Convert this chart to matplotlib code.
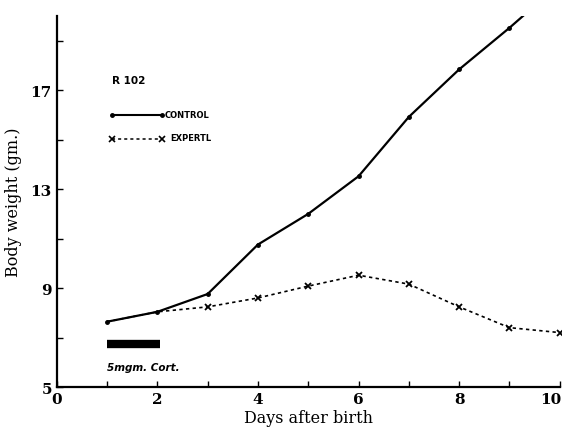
import matplotlib
matplotlib.use("Agg")
import matplotlib.pyplot as plt
import matplotlib.transforms as mtransforms

# Body weight (gm.) of rat litter R 102 by day after birth
days = [1, 2, 3, 4, 5, 6, 7, 8, 9, 10]
control = [7.64, 8.04, 8.76, 10.76, 12.0, 13.52, 15.92, 17.84, 19.52, 21.3]
expt = [7.64, 8.04, 8.24, 8.6, 9.08, 9.52, 9.16, 8.24, 7.4, 7.2]

x_ticks = [0, 2, 4, 6, 8, 10]
y_ticks = [5, 9, 13, 17]
treatment = (1.0, 2.05)   # days of 5 mgm. cortisone

plt.rcParams["font.family"] = ["DejaVu Serif"]

fig = plt.figure(figsize=(5.62, 4.35), dpi=100)
ax = fig.add_axes([0.101, 0.108, 0.895, 0.853])

ax.plot(days, control, color="black", lw=1.6, marker="o", ms=2.5,
        solid_capstyle="round")
ax.plot(days, expt, color="black", lw=1.2, ls=(0, (2, 2)), marker="x",
        ms=4.5, mew=1.3, markevery=list(range(2, len(days))), clip_on=False)

# legend drawn by hand, as in the original
ax.text(1.1, 17.4, "R 102", fontsize=7.5, fontweight="bold",
        family="DejaVu Sans", va="center")
ax.plot([1.09, 2.09], [16.0, 16.0], color="black", lw=1.5,
        marker="o", ms=2.5)
ax.text(2.15, 16.0, "CONTROL", fontsize=6, fontweight="bold",
        family="DejaVu Sans", va="center")
ax.plot([1.09, 2.09], [15.04, 15.04], color="black", lw=1.1,
        ls=(0, (2, 2)), marker="x", ms=4, mew=1.2)
ax.text(2.25, 15.1, "EXPERTL", fontsize=6, fontweight="bold",
        family="DejaVu Sans", va="center")

# treatment bar
ax.plot(treatment, [6.72, 6.72], color="black", lw=6, solid_capstyle="butt")
ax.text(1.0, 5.8, "5mgm. Cort.", fontsize=7.5, fontweight="bold",
        fontstyle="italic", family="DejaVu Sans", va="center")

ax.set_xlim(0, 10)
ax.set_ylim(5, 20)
ax.set_xticks(x_ticks)
ax.set_xticks(range(0, 11), minor=True)
ax.set_yticks(y_ticks)
ax.set_yticks([7, 11, 15, 19], minor=True)
ax.tick_params(which="both", direction="in", length=4, width=1,
               labelsize=11)
for lab in ax.get_xticklabels() + ax.get_yticklabels():
    lab.set_fontweight("bold")
# pull the last x label in so it stays on the page
last = ax.get_xticklabels()[-1]
last.set_transform(last.get_transform() +
                   mtransforms.ScaledTranslation(-9 / 100, 0, fig.dpi_scale_trans))

for side in ("top", "right"):
    ax.spines[side].set_visible(False)
for side in ("left", "bottom"):
    ax.spines[side].set_linewidth(1.6)

ax.set_xlabel("Days after birth", fontsize=11.5, labelpad=2)
ax.set_ylabel("Body weight (gm.)", fontsize=11.5, labelpad=6)

fig.savefig("out.png", dpi=100)
